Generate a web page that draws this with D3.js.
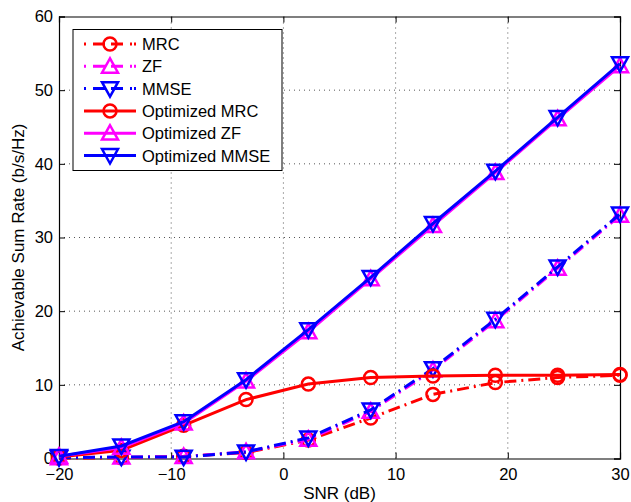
<!DOCTYPE html>
<html>
<head>
<meta charset="utf-8">
<script src="https://cdn.jsdelivr.net/npm/d3@7"></script>
<style>
  body { margin: 0; background: #fff; }
  text { font-family: "Liberation Sans", Arial, sans-serif; }
</style>
</head>
<body>
<div id="chart"></div>
<script>
// data
var snr = [-20, -14.44, -8.89, -3.33, 2.22, 7.78, 13.33, 18.89, 24.44, 30];
var mrc = [0.05, 0.1, 0.3, 0.8, 2.5, 5.5, 8.7, 10.3, 11.0, 11.3];
var zf = [0.1, 0.2, 0.25, 0.9, 2.6, 6.4, 12.0, 18.7, 25.8, 33.0];
var mmse = [0.1, 0.2, 0.2, 0.9, 2.8, 6.6, 12.2, 18.9, 26.0, 33.2];
var optMrc = [0.2, 1.1, 4.5, 8.0, 10.1, 11.0, 11.2, 11.3, 11.3, 11.4];
var optZf = [0.3, 1.5, 4.8, 10.5, 17.2, 24.4, 31.6, 38.8, 46.1, 53.3];
var optMmse = [0.3, 1.7, 5.0, 10.7, 17.5, 24.6, 31.9, 39.0, 46.3, 53.6];
var xTicks = [-20, -10, 0, 10, 20, 30];
var yTicks = [0, 10, 20, 30, 40, 50, 60];

var series = [
  {name: "MRC", values: mrc, color: "#ff0000", dash: "12,5,2,5", marker: "circle"},
  {name: "ZF", values: zf, color: "#ff00ff", dash: "12,5,2,5", marker: "up"},
  {name: "MMSE", values: mmse, color: "#0000ff", dash: "12,5,2,5", marker: "down"},
  {name: "Optimized MRC", values: optMrc, color: "#ff0000", dash: null, marker: "circle"},
  {name: "Optimized ZF", values: optZf, color: "#ff00ff", dash: null, marker: "up"},
  {name: "Optimized MMSE", values: optMmse, color: "#0000ff", dash: null, marker: "down"}
];

var W = 631, H = 502;
var m = {left: 59, right: 11, top: 16.5, bottom: 43.5};

var svg = d3.select("#chart").append("svg")
  .attr("width", W)
  .attr("height", H);

var x = d3.scaleLinear().domain([-20, 30]).range([m.left, W - m.right]);
var y = d3.scaleLinear().domain([0, 60]).range([H - m.bottom, m.top]);

// grid
var grid = svg.append("g");
grid.selectAll(".gx").data(xTicks.slice(1, -1)).enter().append("line")
  .attr("x1", d => x(d)).attr("x2", d => x(d))
  .attr("y1", y(0)).attr("y2", y(60))
  .attr("stroke", "#555").attr("stroke-width", 1).attr("stroke-dasharray", "1,4");
grid.selectAll(".gy").data(yTicks.slice(1, -1)).enter().append("line")
  .attr("y1", d => y(d)).attr("y2", d => y(d))
  .attr("x1", x(-20)).attr("x2", x(30))
  .attr("stroke", "#555").attr("stroke-width", 1).attr("stroke-dasharray", "1,4");

// axes
var xAxis = svg.append("g").attr("transform", "translate(0," + y(0) + ")")
  .call(d3.axisBottom(x).tickValues(xTicks).tickSize(-6).tickPadding(10)
    .tickFormat(d => d < 0 ? "\u2212" + Math.abs(d) : d));
var yAxis = svg.append("g").attr("transform", "translate(" + x(-20) + ",0)")
  .call(d3.axisLeft(y).tickValues(yTicks).tickSize(-6).tickPadding(6));
var xTop = svg.append("g").attr("transform", "translate(0," + y(60) + ")")
  .call(d3.axisTop(x).tickValues(xTicks).tickSize(-6).tickFormat(""));
var yRight = svg.append("g").attr("transform", "translate(" + x(30) + ",0)")
  .call(d3.axisRight(y).tickValues(yTicks).tickSize(-6).tickFormat(""));
[xAxis, yAxis, xTop, yRight].forEach(function(g){
  g.selectAll("path").attr("stroke", "#000").attr("stroke-width", 1.2);
  g.selectAll("line").attr("stroke", "#000");
  g.selectAll("text").attr("font-size", 16.5).attr("fill", "#000")
    .style("font-family", "Liberation Sans, Arial, sans-serif");
});

svg.append("text")
  .attr("x", (x(-20) + x(30)) / 2).attr("y", 499)
  .attr("text-anchor", "middle").attr("font-size", 17).text("SNR (dB)");
svg.append("text")
  .attr("transform", "translate(24," + (y(30)) + ") rotate(-90)")
  .attr("text-anchor", "middle").attr("font-size", 17).text("Achievable Sum Rate (b/s/Hz)");

function drawMarker(g, type, cx, cy, color) {
  if (type === "circle") {
    g.append("circle").attr("cx", cx).attr("cy", cy).attr("r", 6.5)
      .attr("fill", "none").attr("stroke", color).attr("stroke-width", 2.5);
  } else {
    var s = 8, dir = type === "up" ? -1 : 1;
    var pts = [[cx, cy + dir * s], [cx - s, cy - dir * s * 0.8], [cx + s, cy - dir * s * 0.8]];
    g.append("polygon").attr("points", pts.map(p => p.join(",")).join(" "))
      .attr("fill", "none").attr("stroke", color).attr("stroke-width", 2.5)
      .attr("stroke-linejoin", "miter");
  }
}

var line = d3.line().x(d => x(d[0])).y(d => y(d[1]));
var plot = svg.append("g");
series.forEach(function(s) {
  var pts = snr.map((v, i) => [v, s.values[i]]);
  var g = plot.append("g");
  g.append("path").datum(pts).attr("d", line)
    .attr("fill", "none").attr("stroke", s.color).attr("stroke-width", 3)
    .attr("stroke-dasharray", s.dash);
  pts.forEach(p => drawMarker(g, s.marker, x(p[0]), y(p[1]), s.color));
});

// legend
var lg = svg.append("g");
lg.append("rect").attr("x", 73).attr("y", 29.5).attr("width", 209).attr("height", 141)
  .attr("fill", "#fff").attr("stroke", "#000").attr("stroke-width", 1);
series.forEach(function(s, i) {
  var ly = 44 + i * 22.3;
  lg.append("line").attr("x1", 84).attr("x2", 136).attr("y1", ly).attr("y2", ly)
    .attr("stroke", s.color).attr("stroke-width", 3)
    .attr("stroke-dasharray", s.dash ? "2,7,12,6,12,7,2" : null);
  drawMarker(lg, s.marker, 110, ly, s.color);
  lg.append("text").attr("x", 142).attr("y", ly + 6).attr("font-size", 16.5).text(s.name);
});
</script>
</body>
</html>
